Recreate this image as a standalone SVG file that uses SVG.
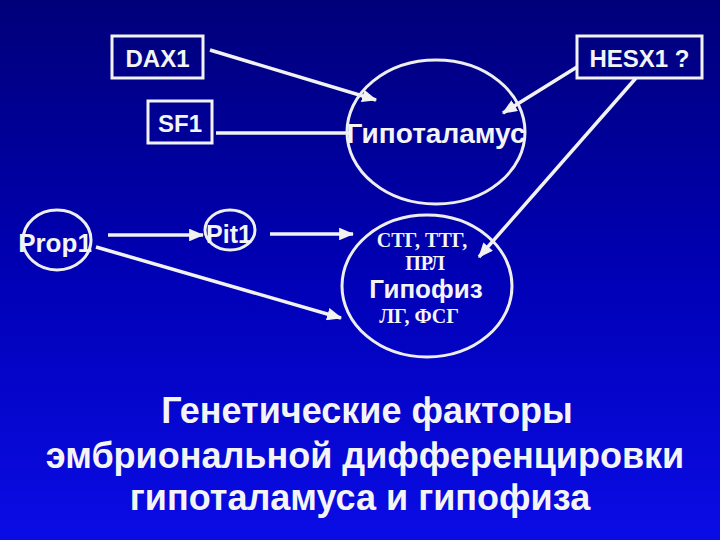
<svg xmlns="http://www.w3.org/2000/svg" width="720" height="540" viewBox="0 0 720 540">
<defs>
<linearGradient id="bg" x1="0" y1="0" x2="0" y2="1">
<stop offset="0" stop-color="#00007a"/>
<stop offset="0.5" stop-color="#0000b4"/>
<stop offset="1" stop-color="#0a0ce6"/>
</linearGradient>
<marker id="ah" viewBox="0 0 12 10" refX="11" refY="5" markerWidth="4.4" markerHeight="3.6" orient="auto" markerUnits="strokeWidth">
<path d="M0,0 L12,5 L0,10 z" fill="#f2f2f2"/>
</marker>
<style>
.box{fill:none;stroke:#f2f2f2;stroke-width:3}
.ell{fill:none;stroke:#eeeeee;stroke-width:3}
.lab{font-family:"Liberation Sans",Arial,sans-serif;font-weight:bold;fill:#f4f4f4;text-anchor:middle}
.ser{font-family:"Liberation Serif","Times New Roman",serif;font-weight:bold;fill:#f4f4f4;text-anchor:middle;font-size:20px}
.ln{stroke:#f2f2f2;stroke-width:3.5;fill:none}
</style>
</defs>
<rect width="720" height="540" fill="url(#bg)"/>
<g id="connectors">
<line class="ln" x1="210" y1="50" x2="376" y2="100" marker-end="url(#ah)"/>
<line class="ln" x1="577" y1="67" x2="503" y2="113" marker-end="url(#ah)"/>
<line class="ln" x1="636" y1="78" x2="479" y2="257" marker-end="url(#ah)"/>
<line class="ln" x1="216" y1="133" x2="349" y2="133"/>
<line class="ln" x1="108" y1="235" x2="203" y2="235" marker-end="url(#ah)"/>
<line class="ln" x1="270" y1="234" x2="353" y2="234" marker-end="url(#ah)"/>
<line class="ln" x1="96" y1="247" x2="341" y2="318" marker-end="url(#ah)"/>
</g>
<g id="dax1">
<rect class="box" x="112" y="36" width="91" height="42"/>
<text class="lab" x="157.5" y="67" font-size="24">DAX1</text>
</g>
<g id="sf1">
<rect class="box" x="148" y="101" width="64" height="42"/>
<text class="lab" x="180" y="132" font-size="24">SF1</text>
</g>
<g id="hesx1">
<rect class="box" x="577" y="36" width="125" height="42"/>
<text class="lab" x="639.5" y="67" font-size="24">HESX1 ?</text>
</g>
<g id="hypothalamus">
<ellipse class="ell" cx="436" cy="132" rx="89" ry="72"/>
<text class="lab" x="436" y="143" font-size="28">Гипоталамус</text>
</g>
<g id="prop1">
<ellipse class="ell" cx="57" cy="240" rx="34" ry="30"/>
<text class="lab" x="55" y="252" font-size="26">Prop1</text>
</g>
<g id="pit1">
<ellipse class="ell" cx="230" cy="230" rx="25" ry="20"/>
<text class="lab" x="229" y="243" font-size="25">Pit1</text>
</g>
<g id="pituitary">
<ellipse class="ell" cx="427" cy="286" rx="85" ry="71"/>
<text class="ser" x="422" y="247">СТГ, ТТГ,</text>
<text class="ser" x="425" y="270">ПРЛ</text>
<text class="lab" x="426" y="298" font-size="26">Гипофиз</text>
<text class="ser" x="419" y="323">ЛГ, ФСГ</text>
</g>
<g id="title">
<text class="lab" x="367" y="423" font-size="36">Генетические факторы</text>
<text class="lab" x="365" y="468" font-size="36">эмбриональной дифференцировки</text>
<text class="lab" x="360" y="510" font-size="36">гипоталамуса и гипофиза</text>
</g>
</svg>
